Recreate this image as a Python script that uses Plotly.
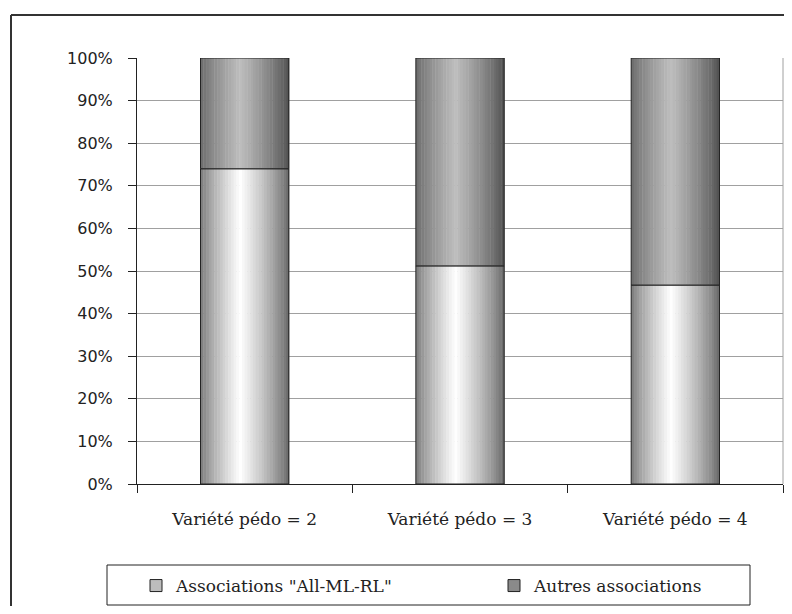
import plotly.graph_objects as go

categories = ["Variété pédo = 2", "Variété pédo = 3", "Variété pédo = 4"]
series_names = ['Associations "All-ML-RL"', "Autres associations"]
share_all_ml_rl = [0.74, 0.512, 0.467]
share_autres = [round(1 - v, 3) for v in share_all_ml_rl]

BAR_W = 0.41
N_STRIPS = 32

def lerp(a, b, s):
    return a + (b - a) * s

def grad_color(t, left, center, right, c=0.45):
    if t < c:
        s = t / c
        v = lerp(left, center, s ** 0.8)
    else:
        s = (1 - t) / (1 - c)
        v = lerp(right, center, s ** 0.8)
    v = int(round(v))
    return f"rgb({v},{v},{v})"

fig = go.Figure()

segments = [
    (series_names[0], share_all_ml_rl, [0, 0, 0], (120, 255, 100), "legend", "#bdbdbd"),
    (series_names[1], share_autres, share_all_ml_rl, (105, 190, 78), "legend2", "#8a8a8a"),
]

for name, vals, bases, (lc, cc, rc), leg, legcol in segments:
    for i in range(N_STRIPS):
        t = (i + 0.5) / N_STRIPS
        col = grad_color(t, lc, cc, rc)
        fig.add_trace(go.Bar(
            x=categories, y=vals, base=bases, name=name,
            width=[BAR_W / N_STRIPS * 1.15] * len(categories),
            offset=-BAR_W / 2 + i * BAR_W / N_STRIPS,
            marker=dict(color=col, line=dict(width=0)),
            legendgroup=name, legend=leg,
            showlegend=False,
            hoverinfo="skip",
        ))
    # outline of the segment
    fig.add_trace(go.Bar(
        x=categories, y=vals, base=bases, name=name,
        width=[BAR_W] * len(categories), offset=-BAR_W / 2,
        marker=dict(color="rgba(0,0,0,0)", line=dict(color="#222222", width=1)),
        legendgroup=name, legend=leg, showlegend=False, hoverinfo="skip",
    ))
    # legend swatch entry
    fig.add_trace(go.Bar(
        x=[categories[0]], y=[None], name=name,
        marker=dict(color=legcol, line=dict(color="#222222", width=1)),
        legendgroup=name, legend=leg, showlegend=True, hoverinfo="skip",
    ))

legend_font = dict(family="DejaVu Serif", size=17, color="#222222")

W, H = 776, 598
fx0 = (11 - 137) / 646
fy1 = 1 + (58 - 15) / 426

fig.update_layout(
    width=W, height=H,
    margin=dict(l=129, r=1, t=50, b=122),
    paper_bgcolor="white", plot_bgcolor="white",
    barmode="overlay",
    showlegend=True,
    legend=dict(
        orientation="h", xref="container", yref="container",
        x=128 / W, xanchor="left", y=1 - 578 / H, yanchor="middle",
        borderwidth=0, bgcolor="rgba(0,0,0,0)", font=legend_font,
    ),
    legend2=dict(
        orientation="h", xref="container", yref="container",
        x=486 / W, xanchor="left", y=1 - 578 / H, yanchor="middle",
        borderwidth=0, bgcolor="rgba(0,0,0,0)", font=legend_font,
    ),
    xaxis=dict(
        type="category", range=[-0.5, 2.5],
        showline=True, linecolor="#222222", linewidth=1,
        ticks="outside", tickson="boundaries", ticklen=8, tickcolor="#222222",
        showgrid=False, ticklabelstandoff=20,
        tickfont=dict(family="DejaVu Serif", size=17, color="#222222"),
    ),
    yaxis=dict(
        range=[0, 1], dtick=0.1, tickformat=".0%",
        showline=True, linecolor="#222222", linewidth=1,
        ticks="outside", ticklen=8, tickcolor="#222222",
        showgrid=True, gridcolor="#a0a0a0", gridwidth=1,
        ticklabelstandoff=12,
        tickfont=dict(family="DejaVu Sans", size=16, color="#222222"),
        zeroline=False,
    ),
    shapes=[
        dict(type="line", xref="paper", yref="paper", x0=1, x1=1, y0=0, y1=1,
             line=dict(color="#a0a0a0", width=1)),
        # outer chart frame (top and left edges; the rest is cropped)
        dict(type="line", xref="paper", yref="paper",
             x0=fx0, x1=1.03, y0=fy1, y1=fy1,
             line=dict(color="#333333", width=2)),
        dict(type="line", xref="paper", yref="paper",
             x0=fx0, x1=fx0, y0=-0.4, y1=fy1,
             line=dict(color="#333333", width=2)),
        # legend box
        dict(type="rect", xref="paper", yref="paper",
             x0=(107 - 137) / 646, x1=(750 - 137) / 646,
             y0=(484 - 605) / 426, y1=(484 - 565) / 426,
             line=dict(color="#222222", width=1), fillcolor="rgba(0,0,0,0)",
             layer="below"),
    ],
)

fig.write_html("out.html")
